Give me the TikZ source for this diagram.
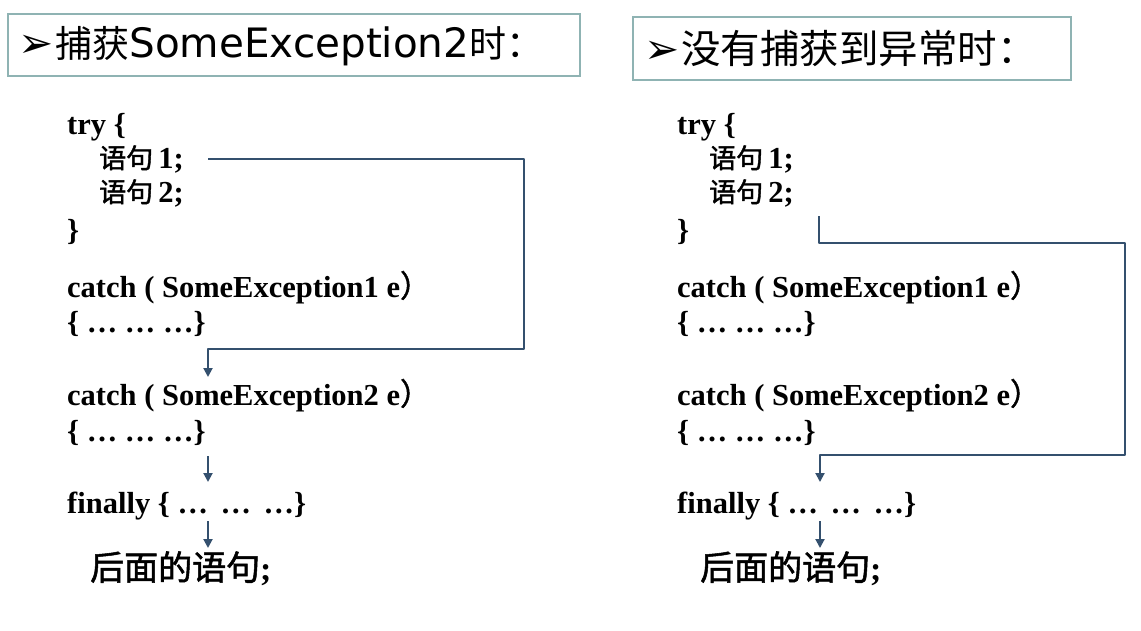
\documentclass[tikz,border=0pt]{standalone}
\usepackage{fontspec}
\setmainfont{Liberation Serif}
\newfontfamily\cjk{Noto Sans CJK SC}
\newfontfamily\cjkb[FakeBold=1.5]{Noto Sans CJK SC}
\newfontfamily\djv{DejaVu Sans}
\usetikzlibrary{arrows.meta}
\definecolor{flowc}{HTML}{34506E}
\definecolor{boxc}{HTML}{8FB3B3}
\newcommand{\zhs}[1]{{\cjkb\mdseries\fontsize{27}{27}\selectfont #1}}
\newcommand{\rpar}{{\cjkb\mdseries ）}}
\begin{document}
\begin{tikzpicture}[x=1pt,y=-1pt,
  code/.style={anchor=base west, inner sep=0pt, font=\fontsize{30.5}{30.5}\selectfont\bfseries},
  zh/.style={anchor=base west, inner sep=0pt, font=\fontsize{34}{34}\selectfont\cjkb},
  ttl/.style={anchor=west, inner sep=0pt},
  titlebox/.style={draw=boxc, line width=1.5pt},
  flowline/.style={draw=flowc, line width=2pt, line join=round},
  flow/.style={flowline, -{Triangle[length=9pt,width=9pt]}}]
\useasboundingbox[fill=white] (0,0) rectangle (1141,630);

% ---------- titles ----------
\draw[titlebox] (8,14) rectangle (580,76);
\node[ttl] (t1) at (18,46) {{\djv\fontsize{42}{42}\selectfont ➢}\hspace{2pt}{\cjk\fontsize{37}{37}\selectfont 捕获}{\djv\fontsize{40.5}{40.5}\selectfont SomeException2}{\cjk\fontsize{37}{37}\selectfont 时：}};
\draw[titlebox] (633,17) rectangle (1071,80);
\node[ttl] (t2) at (644,49) {{\djv\fontsize{42}{42}\selectfont ➢}\hspace{2pt}{\cjk\fontsize{39.5}{39.5}\selectfont 没有捕获到异常时：}};

% ---------- left code ----------
\node[code] (ltry) at (67,134) {try \{};
\node[code] (ls1) at (99,168) {\zhs{语句}\,1;};
\node[code] (ls2) at (99,202) {\zhs{语句}\,2;};
\node[code] (lcl) at (67,240) {\}};
\node[code] (lc1) at (67,297) {catch ( SomeException1 e\rpar};
\node[code] (lb1) at (67,332) {\{ … … …\}};
\node[code] (lc2) at (67,405) {catch ( SomeException2 e\rpar};
\node[code] (lb2) at (67,441) {\{ … … …\}};
\node[code] (lfin) at (67,513) {finally \{ …\hspace{5pt} …\hspace{5pt} …\}};
\node[zh] (lnext) at (90,580) {后面的语句{\rmfamily\bfseries ;}};

% ---------- right code ----------
\node[code] (rtry) at (677,134) {try \{};
\node[code] (rs1) at (709,168) {\zhs{语句}\,1;};
\node[code] (rs2) at (709,202) {\zhs{语句}\,2;};
\node[code] (rcl) at (677,240) {\}};
\node[code] (rc1) at (677,297) {catch ( SomeException1 e\rpar};
\node[code] (rb1) at (677,332) {\{ … … …\}};
\node[code] (rc2) at (677,405) {catch ( SomeException2 e\rpar};
\node[code] (rb2) at (677,441) {\{ … … …\}};
\node[code] (rfin) at (677,513) {finally \{ …\hspace{5pt} …\hspace{5pt} …\}};
\node[zh] (rnext) at (700,580) {后面的语句{\rmfamily\bfseries ;}};

% ---------- left connectors ----------
\coordinate (la) at (208,159);
\coordinate (lb) at (524,159);
\coordinate (lc) at (524,349);
\coordinate (ld) at (208,349);
\coordinate (le) at (208,377);
\draw[flow] (la) -- (lb) -- (lc) -- (ld) -- (le);
\coordinate (lf1) at (208,456);
\coordinate (lf2) at (208,482);
\draw[flow] (lf1) -- (lf2);
\coordinate (ln1) at (208,521);
\coordinate (ln2) at (208,548);
\draw[flow] (ln1) -- (ln2);

% ---------- right connectors ----------
\coordinate (ra) at (819,216);
\coordinate (rb) at (819,243);
\coordinate (rc) at (1125,243);
\coordinate (rd) at (1125,455);
\coordinate (re) at (820,455);
\coordinate (rf) at (820,482);
\draw[flow] (ra) -- (rb) -- (rc) -- (rd) -- (re) -- (rf);
\coordinate (rn1) at (820,521);
\coordinate (rn2) at (820,548);
\draw[flow] (rn1) -- (rn2);
\end{tikzpicture}
\end{document}
